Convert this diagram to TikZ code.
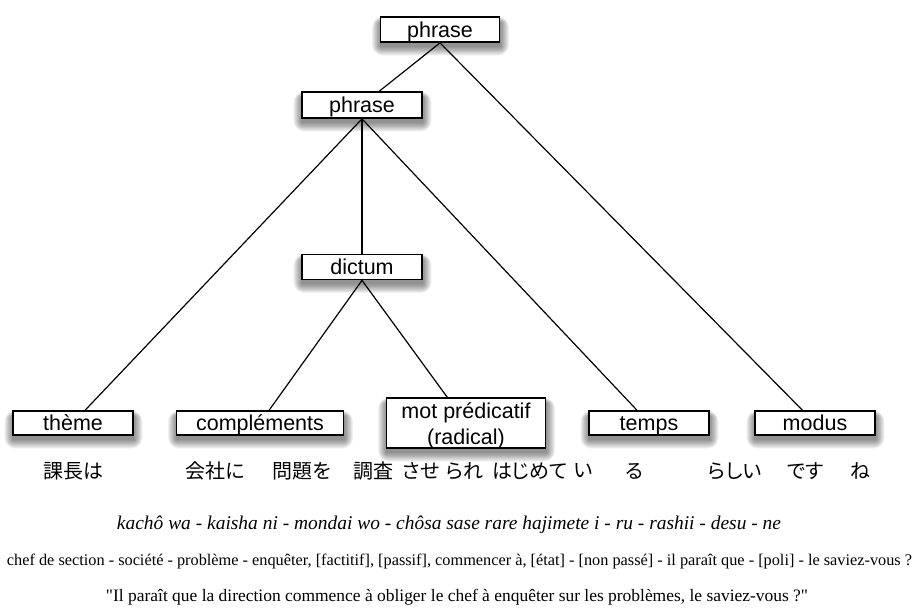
\documentclass[tikz,border=0pt]{standalone}
\usepackage{fontspec}
\setmainfont{Liberation Serif}[Ligatures=TeXOff]
\newfontfamily\boxfont{Liberation Sans}
\newfontfamily\jpfont{Noto Sans CJK JP}[RawFeature=+palt]
\usetikzlibrary{backgrounds}
\tikzset{
  tbox/.style={draw=black, line width=1.7pt, fill=white, inner sep=0pt,
    font=\boxfont\fontsize{21.5}{26}\selectfont, align=center},
  onel/.style={text height=17pt, text depth=2pt},
  link/.style={draw=black, line width=1.2pt},
  jp/.style={font=\jpfont\fontsize{20}{24}\selectfont, inner sep=0pt},
  txt/.style={inner sep=0pt}
}
\begin{document}
\begin{tikzpicture}[x=1pt,y=-1pt]
\useasboundingbox (0,0) rectangle (916,611);
% boxes
\node[tbox, onel, minimum width=119pt, minimum height=25pt] (p1) at (440,29.5) {phrase};
\node[tbox, onel, minimum width=120pt, minimum height=26pt] (p2) at (362,105) {phrase};
\node[tbox, onel, minimum width=120pt, minimum height=25pt] (dictum) at (362,267) {dictum};
\node[tbox, onel, minimum width=120pt, minimum height=24pt] (theme) at (73,423) {thème};
\node[tbox, onel, minimum width=167pt, minimum height=24pt] (compl) at (260,423) {compléments};
\node[tbox, minimum width=159pt, minimum height=50pt] (mot) at (466,423) {};
\node[inner sep=0pt, font=\boxfont\fontsize{21.5}{26}\selectfont, align=center] (motlabel) at (466,426) {mot prédicatif\\(radical)};
\node[tbox, onel, minimum width=120pt, minimum height=24pt] (temps) at (649,423) {temps};
\node[tbox, onel, minimum width=120pt, minimum height=24pt] (modus) at (815,423) {modus};
% white page and soft shadows
\begin{scope}[on background layer]
\fill[white] (0,0) rectangle (916,611);
\foreach \n in {p1,p2,dictum,theme,compl,mot,temps,modus}{
  \foreach \s in {0,1,...,11}{
    \fill[black, opacity=0.045, rounded corners=\s pt]
      ([shift={(-\s*0.75+0.5,-\s*0.5+6)}]\n.north west) rectangle ([shift={(\s*0.75+0.5,\s*0.8+4)}]\n.south east);
  }
}
\end{scope}
% links
\draw[link] (p1.south) -- (p2);
\draw[link] (p1.south) -- (modus);
\draw[link] (p2.south) -- (theme);
\draw[link] (p2.south) -- (dictum);
\draw[link] (p2.south) -- (temps);
\draw[link] (dictum.south) -- (compl);
\draw[link] (dictum.south) -- (mot);
% Japanese
\node[jp] (j1) at (73,471) {課長は};
\node[jp] (j2) at (215,471) {会社に};
\node[jp] (j3) at (302,471) {問題を};
\node[jp] (j4) at (373,471) {調査};
\node[jp] (j5) at (421,471) {させ};
\node[jp] (j6) at (465,471) {られ};
\node[jp] (j7) at (530,471) {はじめて};
\node[jp] (j8) at (583,471) {い};
\node[jp] (j9) at (634,471) {る};
\node[jp] (j10) at (735,471) {らしい};
\node[jp] (j11) at (805,471) {です};
\node[jp] (j12) at (860,471) {ね};
% lines of text
\node[txt] (romaji) at (449,525) {\resizebox{664pt}{!}{\itshape kachô wa - kaisha ni - mondai wo - chôsa sase rare hajimete i - ru - rashii - desu - ne}};
\node[txt] (gloss) at (459.5,561) {\resizebox{905pt}{!}{chef de section - société - problème - enquêter, [factitif], [passif], commencer à, [état] - [non passé] - il paraît que - [poli] - le saviez-vous ?}};
\node[txt] (trans) at (457,597) {\resizebox{702pt}{!}{"Il paraît que la direction commence à obliger le chef à enquêter sur les problèmes, le saviez-vous ?"}};
\end{tikzpicture}
\end{document}
